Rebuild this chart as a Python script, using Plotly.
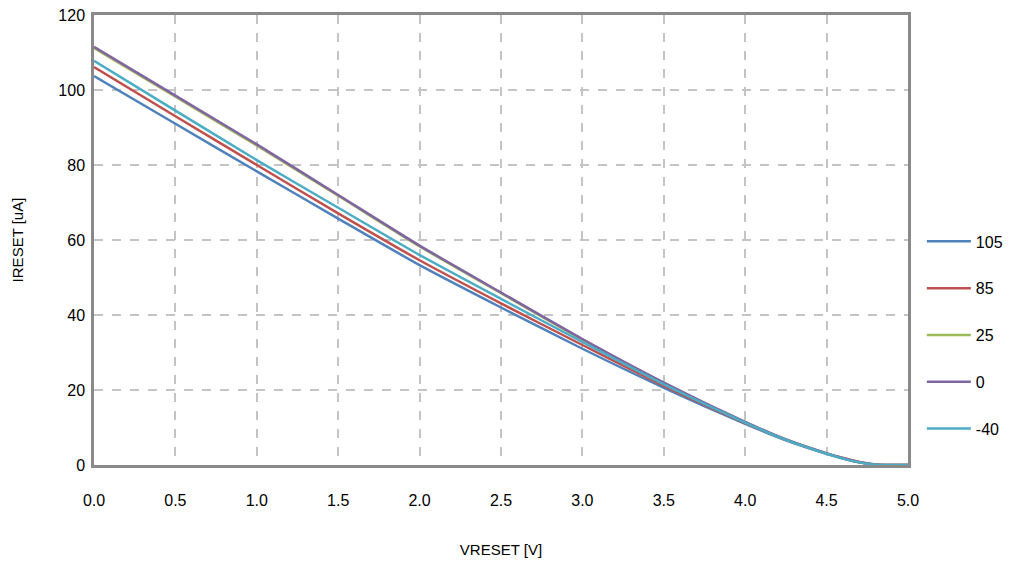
import plotly.graph_objects as go

# ── data ──────────────────────────────────────────────────────────────────────
VRESET = [0.0, 0.5, 1.0, 1.5, 2.0, 2.5, 3.0, 3.5, 4.0, 4.25, 4.5, 4.6, 4.7, 4.8, 4.9, 5.0]

I_105 = [103.7, 91.0, 78.3, 65.7, 53.3, 42.0, 31.0, 20.6, 11.0, 6.6, 3.0, 1.8, 0.8, 0.15, 0.0, 0.0]
I_85  = [106.1, 93.0, 80.0, 67.1, 54.6, 43.1, 32.0, 21.1, 11.2, 6.7, 3.1, 1.9, 0.8, 0.15, 0.0, 0.0]
I_25  = [111.2, 98.2, 85.2, 71.8, 58.3, 45.8, 33.4, 21.9, 11.4, 6.8, 3.1, 1.8, 0.7, 0.1, 0.0, 0.0]
I_0   = [111.5, 98.5, 85.5, 72.0, 58.5, 46.0, 33.6, 22.0, 11.5, 6.8, 3.1, 1.8, 0.7, 0.1, 0.0, 0.0]
I_m40 = [107.8, 94.5, 81.3, 68.6, 56.0, 44.3, 32.8, 21.5, 11.3, 6.7, 3.0, 1.7, 0.7, 0.1, 0.0, 0.0]

SERIES = [("105", I_105), ("85", I_85), ("25", I_25), ("0", I_0), ("-40", I_m40)]
COLORS = ["#4F81BD", "#C0504D", "#9BBB59", "#8064A2", "#4BACC6"]

X_TICKS = [0.0, 0.5, 1.0, 1.5, 2.0, 2.5, 3.0, 3.5, 4.0, 4.5, 5.0]
Y_TICKS = [0, 20, 40, 60, 80, 100, 120]

FRAME = "#898989"
GRID  = "#C4C4C4"
TEXT  = "#000000"
FONT  = "Liberation Sans, Arial, sans-serif"

fig = go.Figure()
for (name, vals), color in zip(SERIES, COLORS):
    fig.add_trace(go.Scatter(
        x=VRESET, y=vals, mode="lines", name=name, legendgroup=name,
        line=dict(color=color, width=2.5, shape="spline", smoothing=0.6),
    ))

axis_common = dict(
    showline=True, mirror=True, linecolor=FRAME, linewidth=2.5,
    showgrid=True, gridcolor=GRID, gridwidth=2, griddash="dash",
    zeroline=False, tickfont=dict(family=FONT, size=16, color=TEXT),
    ticks="", layer="below traces", automargin=False, ticklabeloverflow="allow",
)

# page body has an 8px default margin, so margins are offset to compensate
fig.update_layout(
    width=1016, height=563,
    paper_bgcolor="white", plot_bgcolor="white",
    font=dict(family=FONT, color=TEXT, size=15),
    margin=dict(l=86, r=116, t=7, b=106),
    xaxis=dict(range=[0, 5], tickvals=X_TICKS, ticktext=[f"{v:.1f}" for v in X_TICKS],
               title=dict(text="VRESET [V]", font=dict(size=15), standoff=37), ticklabelstandoff=19,
               **axis_common),
    yaxis=dict(range=[0, 120], tickvals=Y_TICKS,
               title=dict(text="IRESET [uA]", font=dict(size=15), standoff=32), ticklabelstandoff=3,
               **axis_common),
    legend=dict(x=1.017, xanchor="left", y=0.289, yanchor="middle",
                font=dict(size=16), tracegroupgap=23, itemwidth=44,
                bgcolor="rgba(0,0,0,0)"),
    showlegend=True,
)

fig.write_html("out.html")
